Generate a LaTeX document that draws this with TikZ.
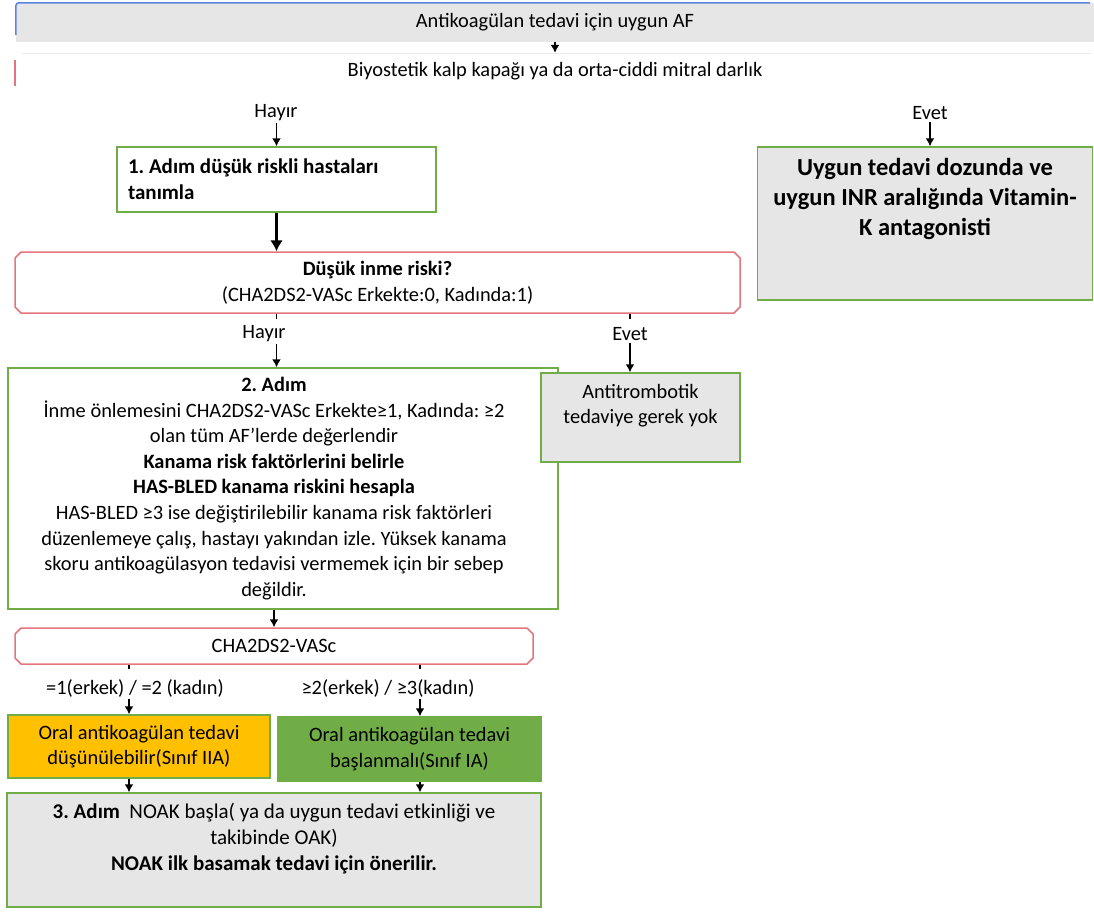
\documentclass[tikz,border=0pt]{standalone}
\usepackage{fontspec}
\setmainfont{Carlito}
\usetikzlibrary{shapes.misc,arrows.meta}
\definecolor{afgreen}{RGB}{112,173,71}
\definecolor{afgray}{RGB}{231,230,230}
\definecolor{afred}{RGB}{226,118,124}
\definecolor{afblue}{RGB}{92,132,222}
\definecolor{aforange}{RGB}{255,192,0}
\frenchspacing

\begin{document}
\begin{tikzpicture}[x=1pt,y=-1pt,font=\fontsize{20.4}{25.6}\selectfont,
  greenbox/.style={draw=afgreen,line width=1.5pt,inner sep=0pt,align=flush center},
  redbox/.style={chamfered rectangle,chamfered rectangle xsep=3pt,chamfered rectangle ysep=3pt,
    draw=afred,line width=1.5pt,inner sep=0pt,fill=white,align=flush center},
  lbl/.style={inner sep=2pt},
  arr/.style={-{Latex[length=8pt,width=9pt]},line width=1.5pt}]
\useasboundingbox (0,0) rectangle (1094,913);

% Header boxes
\node[fill=afgray,minimum width=1078pt,minimum height=39pt,inner sep=0pt] (af) at (555,22.5) {Antikoagülan tedavi için uygun AF};
\draw[afblue,line width=1.5pt,rounded corners=3pt] ([yshift=-32pt]af.north west) -- (af.north west) -- ([xshift=-4pt]af.north east);
\node[minimum width=1079pt,minimum height=36pt,inner sep=0pt] (kapak) at (555,71) {Biyostetik kalp kapağı ya da orta-ciddi mitral darlık};
\draw[black!8] ([xshift=7pt]kapak.north west) -- ([xshift=-4pt]kapak.north east);
\draw[afred,line width=1.8pt] ([yshift=-7pt]kapak.north west) -- ([yshift=3pt]kapak.south west);
\draw[arr] (af.south) -- (kapak.north);

% First split
\node[lbl] (hayir1) at (276,113) {Hayır};
\node[lbl] (evet1) at (930,113) {Evet};
\node[greenbox,fill=white,minimum width=319pt,minimum height=65pt,text width=297pt,align=flush left,
  font=\fontsize{21}{26}\selectfont\bfseries] (adim1) at (276.5,179.5) {1. Adım düşük riskli hastaları\\tanımla};
\node[greenbox,fill=afgray,minimum width=335pt,minimum height=153pt,text width=325pt,
  font=\fontsize{24.5}{30}\selectfont\bfseries] (vka) at (925,223.5)
  {Uygun tedavi dozunda ve\\uygun INR aralığında Vitamin-\\K antagonisti\\[-16pt]\strut\\\strut};
\draw[arr] (hayir1.south -| adim1.north) -- (adim1.north);
\draw[arr] (evet1.south) -- (vka.north -| evet1.south);

% Low risk question
\node[redbox,minimum width=725pt,minimum height=61pt] (dusuk) at (377.5,282.5)
  {\textbf{Düşük inme riski?}\\(CHA2DS2-VASc Erkekte:0, Kadında:1)};
\draw[-{Latex[length=11pt,width=13pt]},line width=2.5pt] (adim1.south) -- (dusuk.north -| adim1.south);

\node[lbl,fill=white] (hayir2) at (264,334) {Hayır};
\node[lbl,fill=white] (evet2) at (630,334) {Evet};
\node[greenbox,fill=white,minimum width=550pt,minimum height=241pt,text width=540pt] (adim2) at (283,488.5)
  {\hspace*{-18pt}\textbf{2. Adım}\\
   \hspace*{-18pt}İnme önlemesini CHA2DS2-VASc Erkekte≥1, Kadında: ≥2\\
   \hspace*{-18pt}olan tüm AF’lerde değerlendir\\
   \hspace*{-18pt}\textbf{Kanama risk faktörlerini belirle}\\
   \hspace*{-18pt}\textbf{HAS-BLED kanama riskini hesapla}\\
   \hspace*{-18pt}HAS-BLED ≥3 ise değiştirilebilir kanama risk faktörleri\\
   \hspace*{-18pt}düzenlemeye çalış, hastayı yakından izle. Yüksek kanama\\
   \hspace*{-18pt}skoru antikoagülasyon tedavisi vermemek için bir sebep\\
   \hspace*{-18pt}değildir.};
\node[greenbox,fill=afgray,minimum width=199pt,minimum height=89pt,text width=190pt] (yok) at (640.5,417.5)
  {Antitrombotik\\tedaviye gerek yok\\[-6pt]\strut};
\draw[line width=1.5pt] (dusuk.south -| adim1.south) -- ([yshift=-5pt]dusuk.south -| adim1.south);
\draw[arr] (hayir2.south -| adim1.south) -- (adim2.north -| adim1.south);
\draw[line width=1.5pt] (dusuk.south -| evet2.north) -- ([yshift=-5pt]dusuk.south -| evet2.north);
\draw[arr] (evet2.south) -- (yok.north -| evet2.south);

% Score split
\node[redbox,minimum width=518pt,minimum height=36pt] (cha) at (274,646) {CHA2DS2-VASc};
\draw[arr] (adim2.south -| cha.north) -- (cha.north);
\coordinate (solyol) at (129,700);
\coordinate (sagyol) at (420,700);
\node[lbl,fill=white] (erkek1) at (135,688) {=1(erkek) / =2 (kadın)};
\node[lbl,fill=white] (erkek2) at (388,688) {≥2(erkek) / ≥3(kadın)};
\node[greenbox,fill=aforange,minimum width=262pt,minimum height=63pt] (sinif2) at (139,746.5)
  {Oral antikoagülan tedavi\\düşünülebilir(Sınıf IIA)};
\node[greenbox,fill=afgreen,minimum width=263pt,minimum height=64pt] (sinif1) at (409.5,749)
  {Oral antikoagülan tedavi\\başlanmalı(Sınıf IA)};
\node[greenbox,fill=afgray,minimum width=534pt,minimum height=114pt,text width=520pt,
  font=\fontsize{21}{26}\selectfont] (adim3) at (274,850)
  {\textbf{3. Adım}\ \ NOAK başla( ya da uygun tedavi etkinliği ve\\
   takibinde OAK)\\
   \textbf{NOAK ilk basamak tedavi için önerilir.}\\[-8pt]\strut};
\draw[line width=1.5pt] (cha.south -| solyol) -- ([yshift=-4pt]cha.south -| solyol);
\draw[line width=1.5pt] (cha.south -| sagyol) -- ([yshift=-4pt]cha.south -| sagyol);
\draw[arr] (erkek1.south -| solyol) -- (sinif2.north -| solyol);
\draw[arr] (erkek2.south -| sagyol) -- (sinif1.north -| sagyol);
\draw[arr] (sinif2.south -| solyol) -- (adim3.north -| solyol);
\draw[arr] (sinif1.south -| sagyol) -- (adim3.north -| sagyol);
\end{tikzpicture}
\end{document}
